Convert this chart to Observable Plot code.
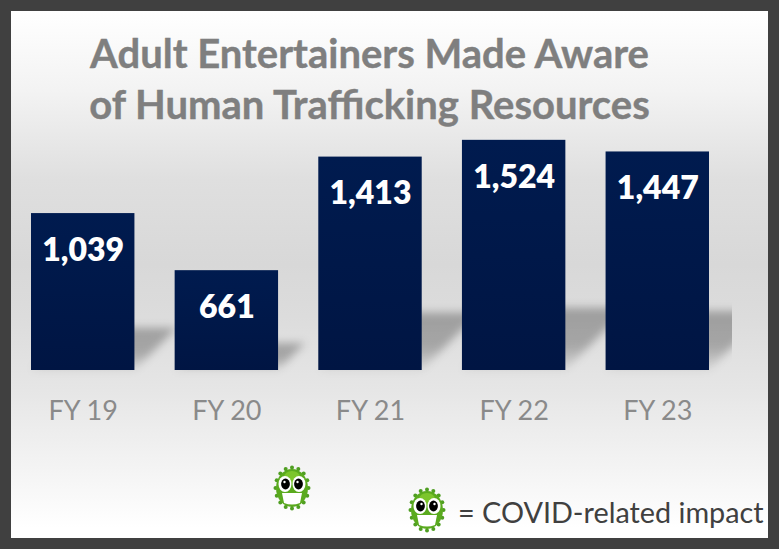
<!DOCTYPE html>
<html><head><meta charset="utf-8">
<script src="https://cdn.jsdelivr.net/npm/d3@7"></script>
<script src="https://cdn.jsdelivr.net/npm/@observablehq/plot@0.6"></script>
<style>
html,body{margin:0;padding:0;background:#fff}
#card{position:relative;width:779px;height:549px;box-sizing:border-box;border:11px solid #404040;overflow:hidden;
background:linear-gradient(180deg,#fff 0%,#f3f3f3 15%,#dfdfdf 32%,#d8d8d8 48%,#dcdcdc 58%,#e6e6e6 72%,#f4f4f4 87%,#fff 98%)}
#chart{position:absolute;left:-11px;top:-11px;width:779px;height:549px}
#title{position:absolute;left:-11px;top:17px;width:739px;text-align:center;font:700 40px/51px Lato,sans-serif;color:#7f7f7f;margin:0;-webkit-text-stroke:.4px #7f7f7f}
#legend{position:absolute;left:447px;top:484px;font:400 28.8px/34px Lato,sans-serif;color:#404040;white-space:nowrap}
.virus{position:absolute;width:38px;height:46px}
</style></head><body>
<div id="card">
<div id="chart"></div>
<h1 id="title">Adult Entertainers Made Aware<br>of Human Trafficking Resources</h1>
<div id="legend">= COVID-related impact</div>
</div>
<script>
const years = ["FY 19","FY 20","FY 21","FY 22","FY 23"];
const counts = [1039,661,1413,1524,1447];
const table = years.map((year,i)=>({year,count:counts[i]}));

const svgNS="http://www.w3.org/2000/svg";
function gradientDefs(){
  const s=document.createElementNS(svgNS,"g");
  s.innerHTML=`<defs>
  <linearGradient id="barFill" x1="0" y1="0" x2="0" y2="1"><stop offset="0" stop-color="#001b4f"/><stop offset="1" stop-color="#001543"/></linearGradient>
  <filter id="soft" x="-30%" y="-30%" width="160%" height="160%"><feGaussianBlur stdDeviation="4"/></filter>
  <linearGradient id="shadeFill" x1="0" y1="0" x2="0" y2="1"><stop offset="0" stop-color="#000" stop-opacity=".28"/><stop offset=".6" stop-color="#000" stop-opacity=".26"/><stop offset="1" stop-color="#000" stop-opacity=".05"/></linearGradient>
  <clipPath id="shadeClip"><rect x="0" y="0" width="732" height="549"/></clipPath></defs>`;
  return s;
}
function castShadow(index,scales,values,dims,ctx,next){
  const g=next(index,scales,values,dims,ctx);
  const base=scales.y(0);
  g.querySelectorAll("rect").forEach(r=>{
    r.setAttribute("transform",`translate(0,${base}) skewX(-45) scale(1,0.27) translate(0,${-base})`);
  });
  g.setAttribute("filter","url(#soft)");
  const w=document.createElementNS(svgNS,"g");
  w.setAttribute("clip-path","url(#shadeClip)");
  w.appendChild(g);
  return w;
}
const chart=Plot.plot({
  width:779,height:549,
  marginLeft:31,marginRight:70,marginTop:11,marginBottom:179,
  style:{background:"transparent",overflow:"visible",maxWidth:"none"},
  x:{domain:years,paddingInner:0.28,paddingOuter:0,round:false,label:null},
  y:{domain:[0,2377],axis:null},
  marks:[
    gradientDefs,
    Plot.barY(table,{x:"year",y:"count",fill:"url(#shadeFill)",render:castShadow}),
    Plot.barY(table,{x:"year",y:"count",fill:"url(#barFill)"}),
    Plot.text(table,{x:"year",y:"count",text:d=>d3.format(",")(d.count),dy:37,fill:"#fff",fontWeight:800,fontSize:32,fontFamily:"Lato, sans-serif"}),
    Plot.axisX({tickSize:0,tickPadding:30,fontSize:27,fontFamily:"Lato, sans-serif",color:"#8a8a8a",fill:"#8a8a8a",label:null})
  ]
});
document.getElementById("chart").appendChild(chart);

function virus(cx,cy,flip){
  let spikes="";
  const n=16;
  for(let i=0;i<n;i++){
    const a=i/n*2*Math.PI,ca=Math.cos(a),sa=Math.sin(a);
    const x1=19+13*ca,y1=23+17*sa,x2=19+16.5*ca,y2=23+20.5*sa;
    spikes+=`<line x1="${x1}" y1="${y1}" x2="${x2}" y2="${y2}" stroke="#4f9e22" stroke-width="1.6"/><circle cx="${x2}" cy="${y2}" r="2" fill="#4f9e22"/>`;
  }
  const tr=flip?'transform="translate(38,0) scale(-1,1)"':'';
  const s=`<svg class="virus" style="left:${cx-19-11}px;top:${cy-23-11}px" viewBox="0 0 38 46"><g ${tr}>${spikes}
  <ellipse cx="19" cy="23" rx="16" ry="19" fill="#5aaa1e"/><ellipse cx="19" cy="12" rx="8" ry="6" fill="#7cc52c"/>
  <path d="M9 28 L29 28 L27 38 Q19 41 11 38Z" fill="#fff"/>
  <ellipse cx="12" cy="19" rx="6.5" ry="8" fill="#fff"/><ellipse cx="26" cy="19" rx="6.5" ry="8" fill="#fff"/>
  <ellipse cx="12.5" cy="19" rx="4.4" ry="5.4" fill="#000"/><ellipse cx="25.5" cy="19" rx="4.4" ry="5.4" fill="#000"/>
  <circle cx="11.5" cy="17" r="1.2" fill="#fff"/><circle cx="24.5" cy="17" r="1.2" fill="#fff"/></g></svg>`;
  document.getElementById("card").insertAdjacentHTML("beforeend",s);
}
virus(292,488,false);
virus(427,510,true);
</script>
</body></html>
